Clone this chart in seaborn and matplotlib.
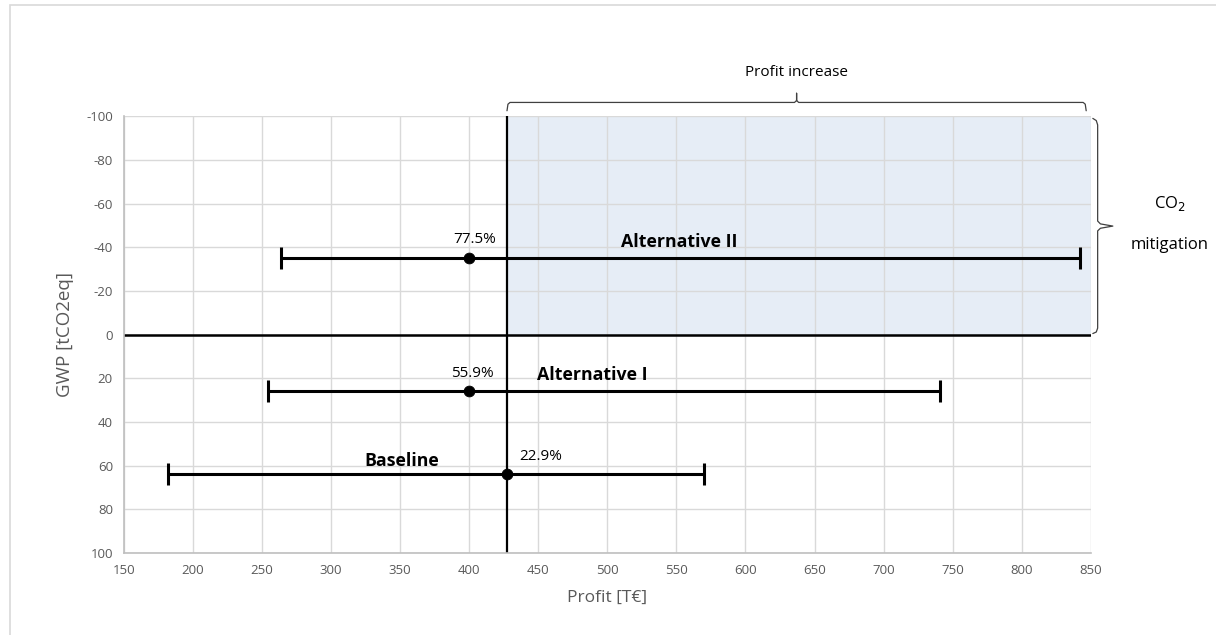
import matplotlib
matplotlib.use("Agg")
import matplotlib.pyplot as plt
from matplotlib.patches import Rectangle
import seaborn as sns
import pandas as pd

# Scenario data: profit [T€] (central estimate with range) and GWP [tCO2eq]
scenarios = ["Baseline", "Alternative I", "Alternative II"]
profit_mid = [427, 400, 400]
profit_low = [182, 254, 264]
profit_high = [570, 741, 842]
gwp = [64, 26, -35]
share_labels = ["22.9%", "55.9%", "77.5%"]

x_ticks = list(range(150, 851, 50))
y_ticks = list(range(-100, 101, 20))

sns.set_theme(style="whitegrid")
plt.rcParams["font.family"] = ["Open Sans", "DejaVu Sans"]
plt.rcParams["axes.unicode_minus"] = False

df = pd.DataFrame({"scenario": scenarios, "profit": profit_mid, "gwp": gwp,
                   "low": profit_low, "high": profit_high})

fig = plt.figure(figsize=(12.16, 6.35), dpi=100)
ax = fig.add_axes([0.102, 0.129, 0.795, 0.688])

grey_txt = "#595959"
ref_x = profit_mid[0]

# Region of more profit and less emissions than the baseline
ax.add_patch(Rectangle((ref_x, -100), 850 - ref_x, 100, facecolor="#E6EDF6",
                       edgecolor="none", zorder=0.5))

ax.axvline(ref_x, color="black", lw=1.6, zorder=2)
ax.axhline(0, color="black", lw=1.8, zorder=2)

ax.errorbar(df["profit"], df["gwp"],
            xerr=[df["profit"] - df["low"], df["high"] - df["profit"]],
            fmt="none", ecolor="black", elinewidth=2.2, capsize=8,
            capthick=2.2, zorder=3)
sns.scatterplot(data=df, x="profit", y="gwp", color="black", s=60,
                edgecolor="black", zorder=4, ax=ax, legend=False)

ax.set_xlim(150, 850)
ax.set_ylim(100, -100)
ax.set_xticks(x_ticks)
ax.set_yticks(y_ticks)
ax.tick_params(axis="both", colors=grey_txt, labelsize=9.5, length=0, pad=8)
ax.grid(True, color="#D9D9D9", lw=1)
for side in ["top", "right"]:
    ax.spines[side].set_visible(False)
for side in ["left", "bottom"]:
    ax.spines[side].set_color("#BFBFBF")
    ax.spines[side].set_linewidth(1.2)

ax.set_xlabel("Profit [T€]", color=grey_txt, fontsize=12.5, labelpad=9)
ax.set_ylabel("GWP [tCO2eq]", color=grey_txt, fontsize=13.5, labelpad=9)

# Share labels next to the central estimates
share_pos = [(452, 56), (402, 17.8), (404, -43.7)]
for lab, (tx, ty) in zip(share_labels, share_pos):
    ax.text(tx, ty, lab, ha="center", va="center", fontsize=11, color="black")

name_pos = [(351, 57.8), (489, 18.5), (552, -42.5)]
for name, (tx, ty) in zip(scenarios, name_pos):
    ax.text(tx, ty, name, ha="center", va="center", fontsize=12.8,
            fontweight="bold", color="black")

# Braces marking the profit increase and CO2 mitigation ranges
bc = "#404040"
tip_x = 637
ax.plot([ref_x + 0.3, ref_x + 1.0, ref_x + 2.5, tip_x - 1.5, tip_x, tip_x,
         tip_x, tip_x + 1.5, 844.5, 846, 846.7],
        [-102.5, -105.5, -106.3, -106.3, -107.2, -110.5, -107.2, -106.3,
         -106.3, -105.5, -102.5],
        color=bc, lw=0.9, clip_on=False)
ax.text(tip_x, -120, "Profit increase", ha="center", va="center", fontsize=11,
        color="black", clip_on=False)

ax.plot([851.5, 854, 855, 855, 857, 866, 857, 855, 855, 854, 851.5],
        [-99, -98, -96, -52, -50.7, -49.7, -48.7, -47.5, -3, -1.2, -0.5],
        color=bc, lw=0.9, clip_on=False)
ax.text(907, -60, "CO$_2$", ha="center", va="center", fontsize=12,
        color="black", clip_on=False)
ax.text(907, -41, "mitigation", ha="center", va="center", fontsize=12,
        color="black", clip_on=False)

# Light frame around the figure
fig.patches.append(Rectangle((10 / 1216, -0.1), 1.2, 1.1 - 5 / 635,
                             transform=fig.transFigure, fill=False,
                             edgecolor="#D9D9D9", lw=1.2))

fig.savefig("out.png", dpi=100)
